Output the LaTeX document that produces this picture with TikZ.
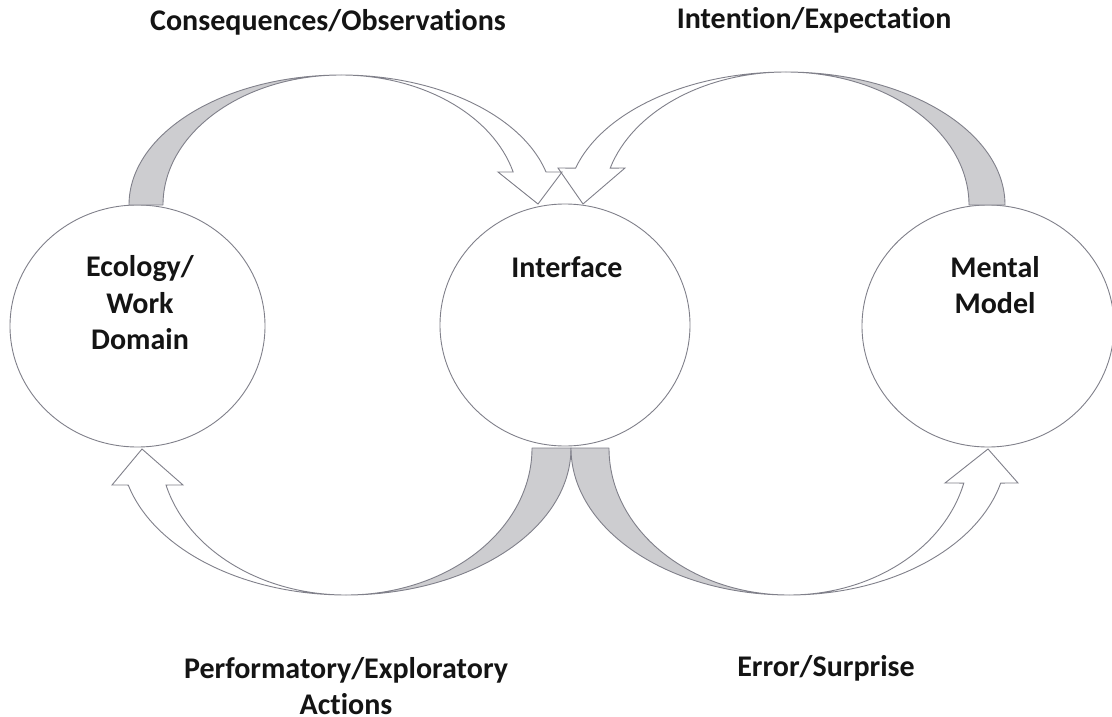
\documentclass[tikz,border=0pt]{standalone}
\usepackage{fontspec}
\setmainfont{Carlito}[Ligatures={NoCommon}]
\usetikzlibrary{shapes.geometric}
\definecolor{edge}{RGB}{128,128,138}
\definecolor{shade}{RGB}{205,205,208}
\definecolor{ink}{RGB}{20,20,20}

% Curved block arrows: each is a lune between two half-ellipses sharing a
% centre and a vertical radius; the tail half is shaded, the head half is white.
% Argument #1 = path options.
\newcommand\arcA[1]{% Ecology -> Interface (over the top)
  \path[#1] (341-212,205) arc[start angle=180,end angle=270,x radius=212,y radius=130]
    arc[start angle=270,end angle=180,x radius=178,y radius=130] -- cycle;}
\newcommand\headA[1]{%
  \path[#1] (341,75) arc[start angle=270,end angle=345.3,x radius=212,y radius=130]
    -- (562,172) -- (tipA) -- (498,172) -- ({341+178*cos(345.3)},{205+130*sin(345.3)})
    arc[start angle=345.3,end angle=270,x radius=178,y radius=130] -- cycle;}
\newcommand\arcB[1]{% Mental Model -> Interface (over the top)
  \path[#1] (786+219,205) arc[start angle=360,end angle=270,x radius=219,y radius=133]
    arc[start angle=270,end angle=360,x radius=183,y radius=133] -- cycle;}
\newcommand\headB[1]{%
  \path[#1] (786,72) arc[start angle=270,end angle=196.1,x radius=219,y radius=133]
    -- (558,168) -- (tipB) -- (625,168) -- ({786+183*cos(196.1)},{205+133*sin(196.1)})
    arc[start angle=196.1,end angle=270,x radius=183,y radius=133] -- cycle;}
\newcommand\arcC[1]{% Interface -> Ecology (underneath)
  \path[#1] (346+225,448) arc[start angle=0,end angle=90,x radius=225,y radius=147]
    arc[start angle=90,end angle=0,x radius=186,y radius=147] -- cycle;}
\newcommand\headC[1]{%
  \path[#1] (346,595) arc[start angle=90,end angle=165.4,x radius=225,y radius=147]
    -- (112,485) -- (tipC) -- (183,485) -- ({346+186*cos(165.4)},{448+147*sin(165.4)})
    arc[start angle=165.4,end angle=90,x radius=186,y radius=147] -- cycle;}
\newcommand\arcD[1]{% Interface -> Mental Model (underneath)
  \path[#1] (789-218,448) arc[start angle=180,end angle=90,x radius=218,y radius=147]
    arc[start angle=90,end angle=180,x radius=180,y radius=147] -- cycle;}
\newcommand\headD[1]{%
  \path[#1] (789,595) arc[start angle=90,end angle=13.8,x radius=218,y radius=147]
    -- (1018,483) -- (tipD) -- (945,483) -- ({789+180*cos(13.8)},{448+147*sin(13.8)})
    arc[start angle=13.8,end angle=90,x radius=180,y radius=147] -- cycle;}

\begin{document}
\begin{tikzpicture}[x=1pt,y=-1pt,
  bubble/.style={ellipse,draw=edge,line width=0.9pt,fill=white,
    minimum width=252pt,minimum height=242pt,inner sep=0pt},
  label/.style={font=\fontsize{30}{36.5}\selectfont\bfseries,text=ink,
    align=center,inner sep=0pt},
  tail/.style={fill=shade,draw=edge,line width=0.9pt,line join=round},
  outline/.style={draw=edge,line width=0.9pt,line join=miter}]
\useasboundingbox[fill=white] (0,0) rectangle (1112,717);

% the three bubbles
\node[bubble,minimum width=255pt] (eco) at (137.5,326) {};
\node[bubble,minimum width=250pt] (iface) at (565,325) {};
\node[bubble] (mental) at (988,326) {};

% arrow tips, resting on the bubbles
\coordinate (tipA) at (538,204);
\coordinate (tipB) at (583,204);
\coordinate (tipC) at (142,449);
\coordinate (tipD) at (988,449);

% shaded tails
\arcA{tail}
\arcB{tail}
\arcC{tail}
\arcD{tail}
% white heads: fill all first, then outline, so crossing edges stay visible
\headA{fill=white}
\headB{fill=white}
\headC{fill=white}
\headD{fill=white}
\headA{outline}
\headB{outline}
\headC{outline}
\headD{outline}

% bubble texts
\node[label] (ecoT)    at (140,303) {Ecology/\\Work\\Domain};
\node[label] (ifaceT)  at (567,267) {Interface};
\node[label] (mentalT) at (995,285) {Mental\\Model};

% loop captions
\node[label] (obs)  at (328,22)  {Consequences/Observations};
\node[label] (exp)  at (814,20)  {Intention/Expectation};
\node[label] (act)  at (346,686) {Performatory/Exploratory\\Actions};
\node[label] (err)  at (826,668) {Error/Surprise};
\end{tikzpicture}
\end{document}
